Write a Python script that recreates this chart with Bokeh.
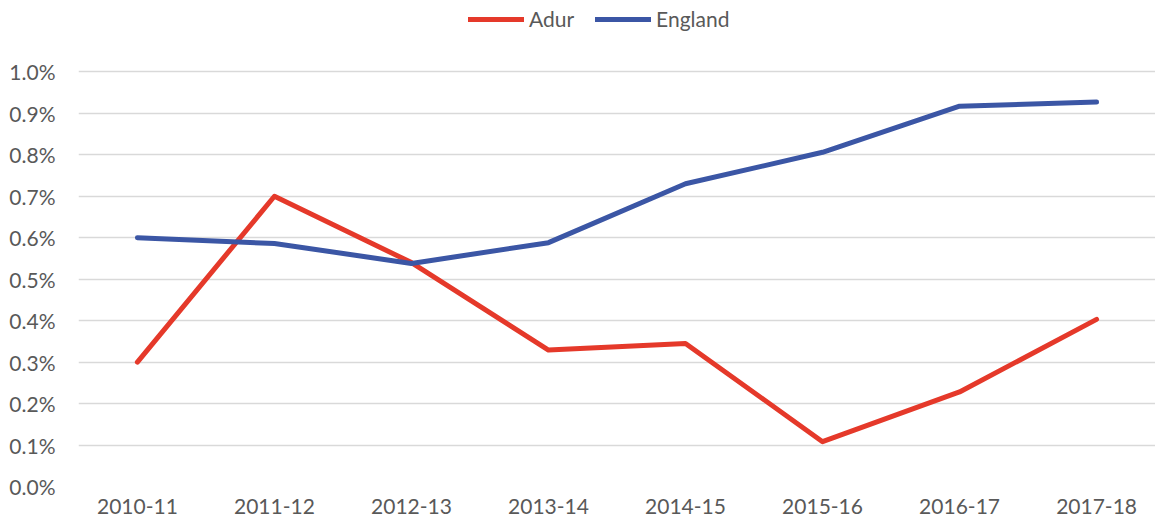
from bokeh.plotting import figure
from bokeh.models import (FactorRange, Range1d, FixedTicker, PrintfTickFormatter,
                          Legend, LegendItem)
from bokeh.embed import file_html
from bokeh.resources import INLINE

years = ["2010-11", "2011-12", "2012-13", "2013-14", "2014-15", "2015-16", "2016-17", "2017-18"]
adur = [0.300, 0.700, 0.540, 0.329, 0.345, 0.108, 0.228, 0.403]
england = [0.600, 0.586, 0.538, 0.588, 0.730, 0.806, 0.917, 0.927]
y_ticks = [0.0, 0.1, 0.2, 0.3, 0.4, 0.5, 0.6, 0.7, 0.8, 0.9, 1.0]

RED = "#E5392A"
BLUE = "#3B56A5"
TXT = "#595959"
FONT = "Lato"

p = figure(width=1155, height=516, output_backend="svg", toolbar_location=None,
           x_range=FactorRange(factors=years, range_padding=-0.07, range_padding_units="absolute"),
           y_range=Range1d(0, 1.172),
           min_border_left=78, min_border_right=0, min_border_top=0, min_border_bottom=10)
p.outline_line_color = None
p.background_fill_color = "white"
p.border_fill_color = "white"

r1 = p.line(years, adur, line_color=RED, line_width=5, line_cap="round", line_join="round")
r2 = p.line(years, england, line_color=BLUE, line_width=5, line_cap="round", line_join="round")

p.xgrid.grid_line_color = None
p.ygrid.grid_line_color = "#D9D9D9"
p.ygrid.grid_line_width = 1.3
p.yaxis.ticker = FixedTicker(ticks=y_ticks)
p.yaxis.formatter = PrintfTickFormatter(format="%.1f%%")

for ax in (p.xaxis[0], p.yaxis[0]):
    ax.axis_line_color = None
    ax.major_tick_line_color = None
    ax.minor_tick_line_color = None
    ax.major_tick_out = 0
    ax.major_tick_in = 0
    ax.major_label_text_font = FONT
    ax.major_label_text_font_size = "21px"
    ax.major_label_text_color = TXT
p.yaxis.major_label_standoff = 23
p.xaxis.major_label_standoff = 12

legend = Legend(items=[LegendItem(label="Adur", renderers=[r1]),
                       LegendItem(label="England", renderers=[r2])],
                orientation="horizontal", location=(390, 455),
                border_line_color=None, background_fill_alpha=0,
                glyph_width=56, glyph_height=20, label_standoff=5, spacing=21,
                padding=0, margin=0, label_height=20,
                label_text_font=FONT, label_text_font_size="21px", label_text_color=TXT)
p.add_layout(legend, "center")

open("out.html", "w").write(file_html(p, INLINE))
